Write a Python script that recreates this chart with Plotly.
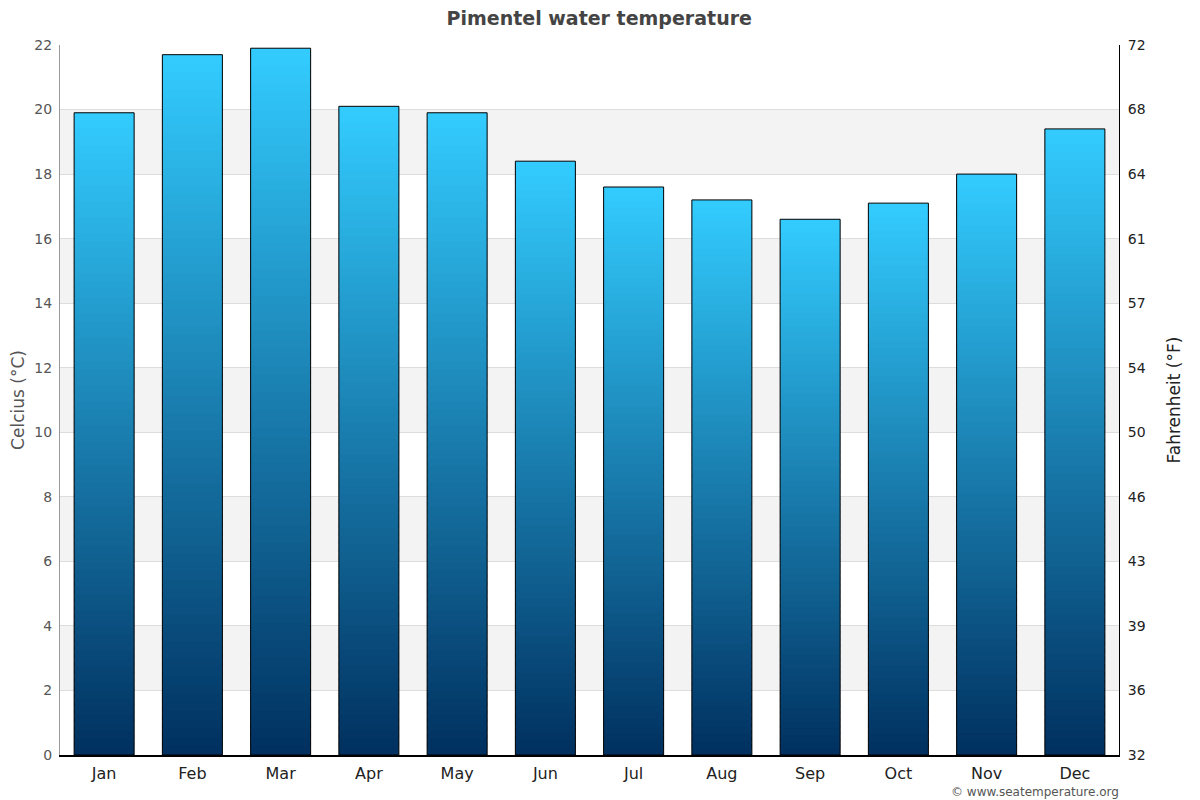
import plotly.graph_objects as go
import numpy as np

months = ["Jan", "Feb", "Mar", "Apr", "May", "Jun", "Jul", "Aug", "Sep", "Oct", "Nov", "Dec"]
water_c = [19.9, 21.7, 21.9, 20.1, 19.9, 18.4, 17.6, 17.2, 16.6, 17.1, 18.0, 19.4]
c_ticks = [0, 2, 4, 6, 8, 10, 12, 14, 16, 18, 20, 22]
f_labels = [str(int(round(c * 9 / 5 + 32))) for c in c_ticks]

vals = np.array(water_c)
N = 80
bottom_rgb = np.array([0, 48, 95])
top_rgb = np.array([51, 204, 255])
BW = 0.68

fig = go.Figure()
for k in range(N):
    t = (k + 0.5) / N
    rgb = bottom_rgb + (top_rgb - bottom_rgb) * t
    col = "rgb(%d,%d,%d)" % tuple(rgb.round().astype(int))
    h = vals / N * (1.6 if k < N - 1 else 1.0)
    fig.add_trace(go.Bar(
        x=months, y=h, base=vals * k / N, width=BW,
        marker=dict(color=col, line=dict(width=0)),
        hoverinfo="skip", showlegend=False,
    ))
fig.add_trace(go.Bar(
    x=months, y=vals, base=0, width=BW,
    marker=dict(color="rgba(0,0,0,0)", line=dict(color="black", width=1)),
    showlegend=False, name="Water temperature",
))
fig.add_trace(go.Scatter(x=[months[0]], y=[0], yaxis="y2", mode="markers",
                         marker=dict(opacity=0), showlegend=False, hoverinfo="skip"))

shapes = []
for lo in [2, 6, 10, 14, 18]:
    shapes.append(dict(type="rect", xref="paper", yref="y", x0=0, x1=1, y0=lo, y1=lo + 2,
                       fillcolor="#f3f3f3", line=dict(width=0), layer="below"))

fig.update_layout(
    width=1192, height=792,
    margin=dict(l=52, r=81, t=37, b=45, autoexpand=False),
    paper_bgcolor="white", plot_bgcolor="white",
    barmode="overlay",
    font=dict(family="DejaVu Sans", color="#444"),
    title=dict(text="<b>Pimentel water temperature</b>", x=0.496, xanchor="center",
               xref="container", y=0.987, yanchor="middle", font=dict(size=19, color="#444")),
    shapes=shapes,
    xaxis=dict(range=[-0.5, len(months) - 0.5], showline=True, linecolor="black", linewidth=2,
               ticks="", tickfont=dict(size=16, color="#222"), showgrid=False,
               ticklabelstandoff=3, automargin=False),
    yaxis=dict(range=[0, 22], tickvals=c_ticks, showline=True, linecolor="#999", linewidth=1,
               showgrid=True, gridcolor="#dddddd", zeroline=False,
               tickfont=dict(size=14, color="#555"), ticklabelstandoff=4, automargin=False,
               title=dict(text="Celcius (°C)", font=dict(size=17, color="#555"), standoff=12)),
    yaxis2=dict(range=[0, 22], overlaying="y", side="right", tickvals=c_ticks, ticktext=f_labels,
                showline=True, linecolor="black", linewidth=1, showgrid=False, zeroline=False,
                tickfont=dict(size=14, color="#222"), ticklabelstandoff=5, automargin=False,
                title=dict(text="Fahrenheit (°F)", font=dict(size=17, color="#222"), standoff=23)),
    annotations=[dict(text="© www.seatemperature.org", xref="paper", yref="paper",
                      x=1, y=0, xshift=2, yshift=-37, xanchor="right", yanchor="middle",
                      showarrow=False, font=dict(size=12, color="#555"))],
)

fig.write_html("out.html")
